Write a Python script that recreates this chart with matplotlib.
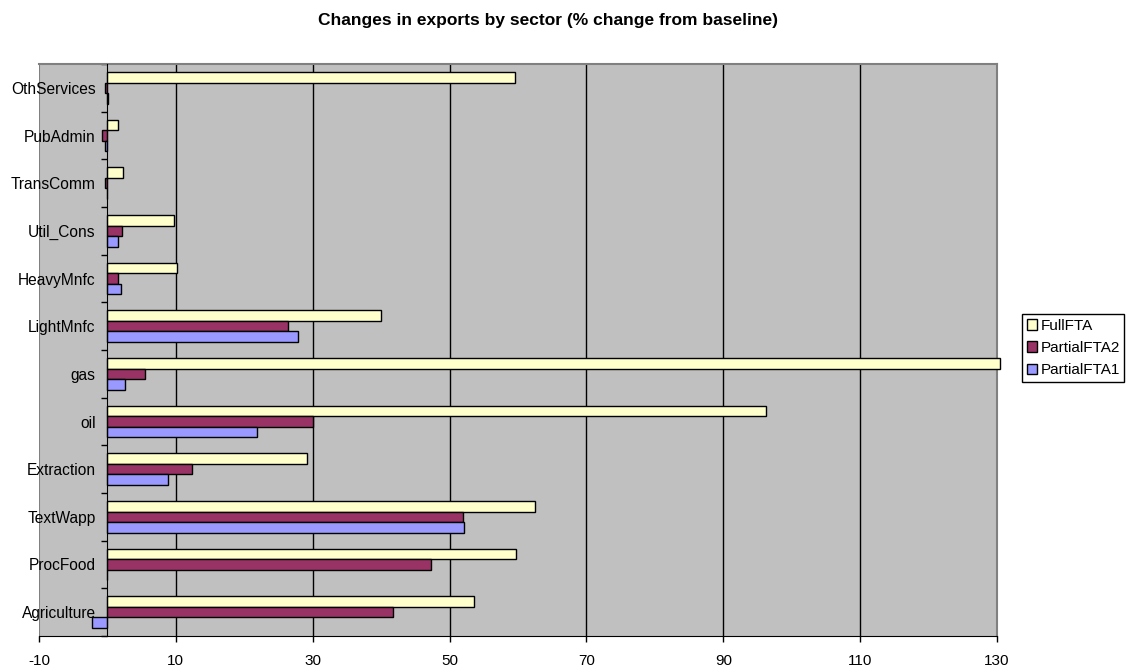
import numpy as np
import matplotlib
matplotlib.use("Agg")
import matplotlib.pyplot as plt
from matplotlib.patches import Patch

plt.rcParams['font.family'] = ['Liberation Sans', 'DejaVu Sans']
plt.rcParams['axes.unicode_minus'] = False

## sectors, bottom to top as drawn
sectors = ['Agriculture', 'ProcFood', 'TextWapp', 'Extraction', 'oil', 'gas',
           'LightMnfc', 'HeavyMnfc', 'Util_Cons', 'TransComm', 'PubAdmin', 'OthServices']

full_fta = [53.5, 59.7, 62.5, 29.1, 96.2, 130.4, 40.0, 10.1, 9.7, 2.3, 1.5, 59.5]
partial_fta2 = [41.7, 47.3, 51.95, 12.4, 30.0, 5.5, 26.4, 1.6, 2.2, -0.3, -0.75, -0.3]
partial_fta1 = [-2.3, -0.1, 52.05, 8.9, 21.9, 2.5, 27.9, 2.0, 1.6, -0.1, -0.35, 0.1]

xticks = [-10, 10, 30, 50, 70, 90, 110, 130]

fig = plt.figure(figsize=(11.3, 6.68), dpi=100)
ax = fig.add_axes([39/1130, 1 - 636/668, 958/1130, 572/668])
ax.set_facecolor('#C0C0C0')

y = np.arange(len(sectors))
h = 0.22   ## bar height
kw = dict(height=h, edgecolor='black', linewidth=1.0, zorder=3)
ax.barh(y + h, full_fta, color='#FFFFCC', clip_on=False, **kw)
ax.barh(y, partial_fta2, color='#993366', **kw)
ax.barh(y - h, partial_fta1, color='#9999FF', **kw)

ax.set_xlim(-10, 130)
ax.set_ylim(-0.5, len(sectors) - 0.5)

## vertical gridlines (inner ticks only)
for t in xticks[1:-1]:
    ax.axvline(t, color='black', lw=1.0, zorder=1)
ax.axvline(xticks[0], color='#808080', lw=1.5, zorder=1)

ax.set_xticks(xticks)
ax.tick_params(axis='x', direction='out', length=4, width=1, pad=9, labelsize=11)

ax.spines['left'].set_position(('data', 0))
ax.spines['left'].set_color('black')
ax.spines['left'].set_zorder(4)
ax.spines['bottom'].set_color('black')
for s in ['top', 'right']:
    ax.spines[s].set_color('#808080')
    ax.spines[s].set_linewidth(1.5)

ax.set_yticks(y)
ax.set_yticklabels(sectors)
ax.set_yticks(np.arange(len(sectors) + 1) - 0.5, minor=True)
ax.tick_params(axis='y', which='major', length=0, pad=8.5, labelsize=11.2)
ax.tick_params(axis='y', which='minor', direction='out', length=4, width=1)

fig.text(548/1130, 1 - 21/668, 'Changes in exports by sector (% change from baseline)',
         ha='center', va='center', fontsize=12.5, fontweight='bold')

handles = [Patch(facecolor='#FFFFCC', edgecolor='black', label='FullFTA'),
           Patch(facecolor='#993366', edgecolor='black', label='PartialFTA2'),
           Patch(facecolor='#9999FF', edgecolor='black', label='PartialFTA1')]
leg = fig.legend(handles=handles, loc='upper left',
                 bbox_to_anchor=(1022/1130, 1 - 314/668), bbox_transform=fig.transFigure,
                 fontsize=11, fancybox=False, edgecolor='black', framealpha=1,
                 handlelength=0.7, handleheight=0.7, handletextpad=0.2,
                 labelspacing=0.55, borderpad=0.3, borderaxespad=0)
leg.get_frame().set_linewidth(1.0)

fig.savefig('out.png', dpi=100)
